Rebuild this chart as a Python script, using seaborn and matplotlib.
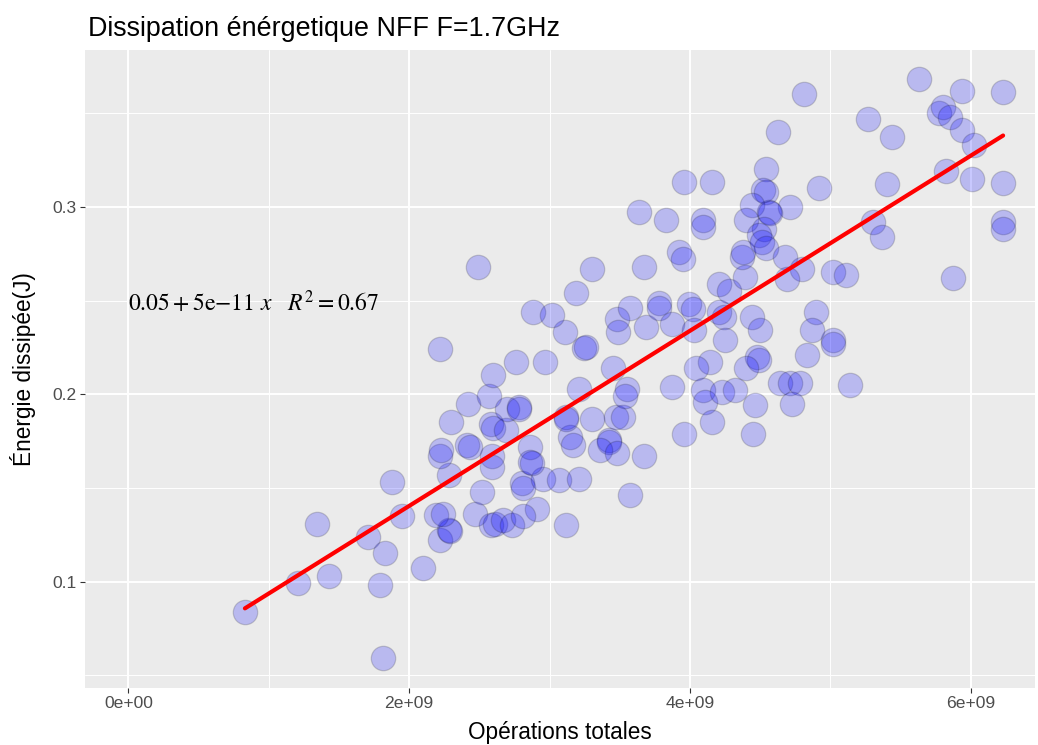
import numpy as np
import pandas as pd
import matplotlib
matplotlib.use("Agg")
import matplotlib.pyplot as plt
from matplotlib.ticker import MultipleLocator, FuncFormatter, FixedLocator
import seaborn as sns

title = "Dissipation énérgetique NFF F=1.7GHz"
x_label = "Opérations totales"
y_label = "Énergie dissipée(J)"
equation_label = r"$0.05+5\mathrm{e}{-}11\ x\quad R^2=0.67$"

operations = [
    0.83e9, 1.21e9, 1.43e9, 1.79e9, 1.81e9, 1.345e9, 1.71e9, 1.83e9, 1.88e9, 1.95e9,
    2.10e9, 2.22e9, 2.28e9, 2.29e9, 2.19e9, 2.24e9, 2.47e9, 2.52e9, 2.28e9, 2.22e9,
    2.23e9, 2.30e9, 2.42e9, 2.41e9, 2.43e9, 2.22e9, 2.57e9, 2.60e9, 2.58e9, 2.60e9,
    2.69e9, 2.59e9, 2.59e9, 2.49e9, 2.76e9, 2.97e9, 2.70e9, 2.78e9, 2.78e9, 2.80e9,
    2.81e9, 2.95e9, 3.07e9, 3.21e9, 2.91e9, 3.57e9, 3.12e9, 2.58e9, 2.61e9, 2.67e9,
    2.73e9, 2.81e9, 2.86e9, 2.86e9, 2.875e9, 3.145e9, 3.17e9, 3.42e9, 3.42e9, 3.36e9,
    3.48e9, 3.675e9, 3.96e9, 3.47e9, 3.52e9, 3.30e9, 3.12e9, 3.12e9, 3.21e9, 3.55e9,
    3.54e9, 3.45e9, 3.245e9, 3.256e9, 3.11e9, 2.88e9, 3.02e9, 3.19e9, 3.30e9, 3.48e9,
    3.49e9, 3.57e9, 3.69e9, 3.78e9, 3.78e9, 3.87e9, 3.99e9, 4.02e9, 4.03e9, 3.64e9,
    3.83e9, 4.09e9, 4.09e9, 3.92e9, 3.95e9, 3.675e9, 3.96e9, 4.16e9, 4.21e9, 4.28e9,
    4.205e9, 4.24e9, 4.25e9, 4.39e9, 4.37e9, 4.38e9, 4.445e9, 4.50e9, 4.48e9, 4.49e9,
    4.14e9, 4.04e9, 4.40e9, 3.87e9, 4.09e9, 4.11e9, 4.23e9, 4.32e9, 4.16e9, 4.46e9,
    4.45e9, 5.63e9, 5.94e9, 6.23e9, 4.81e9, 5.27e9, 5.44e9, 4.625e9, 5.77e9, 5.80e9,
    5.85e9, 5.935e9, 6.02e9, 5.82e9, 6.01e9, 6.23e9, 5.405e9, 4.92e9, 4.54e9, 4.52e9,
    4.54e9, 4.71e9, 4.44e9, 4.56e9, 4.57e9, 4.40e9, 4.53e9, 4.49e9, 4.51e9, 4.54e9,
    4.68e9, 4.80e9, 4.69e9, 5.02e9, 5.11e9, 5.30e9, 5.37e9, 6.23e9, 6.23e9, 5.87e9,
    4.90e9, 4.87e9, 5.02e9, 5.02e9, 4.83e9, 5.14e9, 4.64e9, 4.71e9, 4.78e9, 4.73e9,
]

energy = [
    0.084, 0.099, 0.103, 0.098, 0.059, 0.131, 0.124, 0.115, 0.153, 0.135,
    0.107, 0.122, 0.1275, 0.127, 0.1355, 0.136, 0.136, 0.148, 0.157, 0.167,
    0.170, 0.185, 0.195, 0.173, 0.172, 0.224, 0.199, 0.210, 0.184, 0.182,
    0.181, 0.167, 0.161, 0.268, 0.217, 0.217, 0.192, 0.193, 0.192, 0.1525,
    0.150, 0.1545, 0.154, 0.155, 0.139, 0.146, 0.130, 0.130, 0.131, 0.133,
    0.130, 0.135, 0.172, 0.164, 0.1635, 0.177, 0.173, 0.1755, 0.1745, 0.170,
    0.1685, 0.167, 0.179, 0.188, 0.188, 0.187, 0.188, 0.187, 0.203, 0.203,
    0.199, 0.214, 0.2245, 0.225, 0.233, 0.244, 0.242, 0.254, 0.267, 0.240,
    0.233, 0.246, 0.236, 0.2485, 0.246, 0.2375, 0.248, 0.2455, 0.234, 0.297,
    0.293, 0.293, 0.289, 0.276, 0.272, 0.268, 0.313, 0.313, 0.259, 0.255,
    0.244, 0.241, 0.229, 0.2625, 0.273, 0.276, 0.241, 0.234, 0.220, 0.218,
    0.217, 0.214, 0.214, 0.204, 0.202, 0.196, 0.201, 0.202, 0.185, 0.194,
    0.179, 0.368, 0.362, 0.361, 0.360, 0.347, 0.337, 0.340, 0.350, 0.353,
    0.348, 0.341, 0.333, 0.319, 0.315, 0.3125, 0.312, 0.310, 0.320, 0.309,
    0.308, 0.300, 0.301, 0.297, 0.2965, 0.293, 0.288, 0.285, 0.281, 0.278,
    0.273, 0.267, 0.2615, 0.265, 0.2635, 0.292, 0.284, 0.292, 0.288, 0.262,
    0.244, 0.234, 0.229, 0.227, 0.221, 0.205, 0.206, 0.206, 0.206, 0.195,
]

x_ticks = [0, 2e9, 4e9, 6e9]
y_ticks = [0.1, 0.2, 0.3]

df = pd.DataFrame({"ops": operations, "energy": energy})

sns.set_theme(style="darkgrid", rc={
    "axes.facecolor": "#EBEBEB",
    "grid.color": "white",
    "figure.facecolor": "white",
})
plt.rcParams["font.family"] = ["Liberation Sans", "DejaVu Sans"]
plt.rcParams["mathtext.fontset"] = "stix"

W, H = 1038, 745
fig = plt.figure(figsize=(W / 100, H / 100), dpi=100)
left, right, top, bottom = 85, 1035, 50, 688
ax = fig.add_axes([left / W, 1 - bottom / H, (right - left) / W, (bottom - top) / H])

sns.scatterplot(data=df, x="ops", y="energy", ax=ax,
                facecolor=(0.0, 0.0, 1.0, 0.21), edgecolor=(0.0, 0.0, 0.0, 0.16),
                s=310, linewidth=0.9, zorder=3, legend=False)
sns.regplot(data=df, x="ops", y="energy", ax=ax, scatter=False, ci=None,
            line_kws={"color": "red", "linewidth": 3.0, "zorder": 4})

px0, pxs = 128.4, 140.4e-9
ax.set_xlim((left - px0) / pxs, (right - px0) / pxs)
py0, pys = 206.8, 1874.0
ax.set_ylim(0.3 - (bottom - py0) / pys, 0.3 + (py0 - top) / pys)

ax.xaxis.set_major_locator(FixedLocator(x_ticks))
ax.yaxis.set_major_locator(FixedLocator(y_ticks))
ax.xaxis.set_minor_locator(MultipleLocator(1e9))
ax.yaxis.set_minor_locator(MultipleLocator(0.05))
ax.xaxis.set_major_formatter(FuncFormatter(lambda v, p: f"{v:.0e}"))
ax.yaxis.set_major_formatter(FuncFormatter(lambda v, p: f"{v:.1f}"))

ax.grid(which="major", color="white", linewidth=1.4)
ax.grid(which="minor", color="white", linewidth=0.7)
ax.set_axisbelow(True)
for s in ax.spines.values():
    s.set_visible(False)

ax.tick_params(which="major", length=3.6, width=0.8, color="#333333",
               labelsize=12.6, labelcolor="#4D4D4D", pad=2.5,
               bottom=True, left=True)
ax.tick_params(which="minor", length=0)

ax.set_xlabel(x_label, fontsize=16.3, color="black", labelpad=7)
ax.set_ylabel(y_label, fontsize=16.3, color="black", labelpad=12)

ax.text(0, 0.2488, equation_label, ha="left", va="center", fontsize=17, color="black", zorder=5)

fig.text(88 / W, 1 - 36 / H, title, ha="left", va="baseline", fontsize=19.4, color="black")

fig.savefig("out.png", dpi=100)
